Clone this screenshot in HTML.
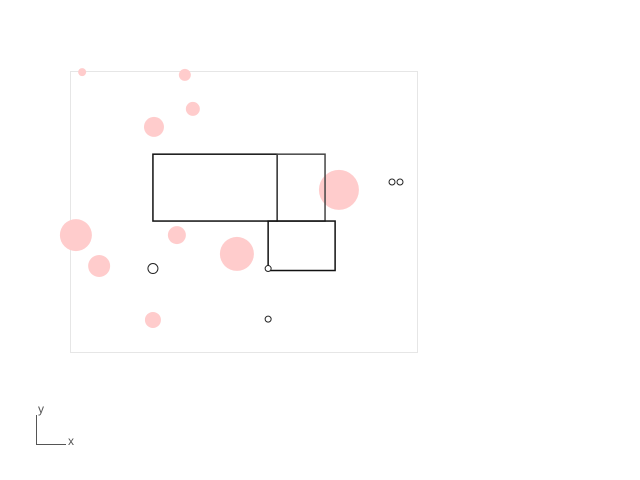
<!DOCTYPE html>
<html><head><meta charset="utf-8"><style>body{margin:0;background:#fff}svg{display:block;font-family:"Liberation Sans",sans-serif}</style></head>
<body>
<svg id="c" width="640" height="480">
<rect x="70.5" y="71.5" width="347" height="281" fill="none" stroke="#e6e6e6"/>
<g id="marks"></g>
<g>
<path d="M36.5 415 V444.5 H66" fill="none" stroke="#555"/>
<text x="38" y="413" font-size="12" fill="#555">y</text>
<text x="68" y="445" font-size="12" fill="#555">x</text>
</g>
</svg>
<script>
const bubbleX=[3.5,33.1,35.4,24.2,77.5,1.7,8.4,30.8,48.1,23.9];
const bubbleY=[99.6,98.6,86.5,80.1,57.7,41.6,30.6,41.6,34.9,11.4];
const bubbleSize=[4,6,7,10,20,16,11,9,17,8];
const boxX0=[23.9,59.7,57.1];
const boxX1=[59.7,73.5,76.4];
const boxY0=[46.6,46.6,29.0];
const boxY1=[70.4,70.4,46.6];
const pointX=[23.9,57.1,57.1,92.8,95.1];
const pointY=[29.7,29.7,11.7,60.5,60.5];
const pointSize=[5,3,3,3,3];
const xs=v=>70+v*3.47, ys=v=>352-v*2.81;
const g=document.getElementById('marks'),NS='http://www.w3.org/2000/svg';
bubbleX.forEach((v,i)=>{const c=document.createElementNS(NS,'circle');
c.setAttribute('cx',xs(v));c.setAttribute('cy',ys(bubbleY[i]));c.setAttribute('r',bubbleSize[i]);c.setAttribute('fill','#ffcccc');


g.appendChild(c);});
boxX0.forEach((v,i)=>{const r=document.createElementNS(NS,'rect');
const x=xs(v),y=ys(boxY1[i]);r.setAttribute('x',x);r.setAttribute('y',y);
r.setAttribute('width',xs(boxX1[i])-x);r.setAttribute('height',ys(boxY0[i])-y);
r.setAttribute('fill','none');r.setAttribute('stroke',i==1?'#444':'#111');r.setAttribute('stroke-width','1.5');


g.appendChild(r);});
pointX.forEach((v,i)=>{const c=document.createElementNS(NS,'circle');
c.setAttribute('cx',xs(v));c.setAttribute('cy',ys(pointY[i]));c.setAttribute('r',pointSize[i]);c.setAttribute('fill','#fff');c.setAttribute('stroke','#222');


g.appendChild(c);});
</script>
</body></html>
